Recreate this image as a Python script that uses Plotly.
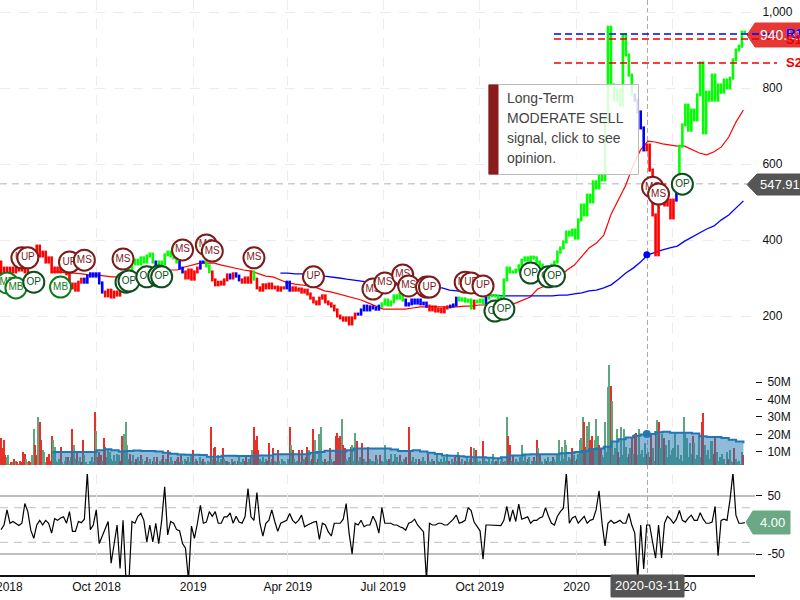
import pandas as pd
import plotly.graph_objects as go

W, H = 800, 600
FONT = "Liberation Sans"

# ---------- x ticks
tick_dates = ["2018-07-01", "2018-10-01", "2019-01-01", "2019-04-01", "2019-07-01", "2019-10-01", "2020-01-01", "2020-04-01"]
tick_labels = ["Jul 2018", "Oct 2018", "2019", "Apr 2019", "Jul 2019", "Oct 2019", "2020", "Apr 2020"]

# ---------- price, one reading about every 68 hours
price = [
    342,300,326,316,326,316,326,321,332,316, 334,353,363,384,358,368,342,353,316,326,
    316,332,321,311,274,284,268,289,297,289, 305,311,305,311,287,263,253,268,250,263,
    255,268,284,300,321,337,347,337,353,342, 358,363,342,326,342,337,361,368,358,353,
    342,326,316,300,321,297,316,326,342,342, 332,316,295,282,289,284,295,308,300,311,
    305,295,289,300,289,316,297,274,268,282, 274,284,274,276,268,274,274,289,268,274,
    268,271,263,268,258,247,237,232,247,253, 237,232,226,216,200,195,189,195,179,195,
    205,205,216,226,216,224,221,218,226,232, 242,229,237,253,247,258,242,229,232,242,
    234,242,232,234,226,216,224,213,218,211, 221,224,226,229,247,242,245,239,242,221,
    239,237,242,234,247,253,253,253,247,242, 295,326,316,316,321,332,347,353,347,355,
    353,342,334,316,316,321,334,342,368,379, 395,421,413,426,405,453,492,466,518,500,
    553,537,571,558,716,960,808,768,795,755, 939,887,834,782,768,737,695,637,650,584,
    466,361,505,545,492,505,458,505,545,647, 703,755,689,742,716,782,866,682,789,768,
    834,768,808,789,821,800,826,874,900,910,947,
]
state_runs = [("r",28),("b",7),("r",6),("g",11),("b",1),("g",7),("b",2),("r",5),("b",2),("g",2),
              ("r",6),("b",1),("r",1),("b",2),("r",4),("g",1),("r",10),("b",2),("r",22),("b",8),
              ("g",8),("b",8),("r",7),("b",3),("g",5),("r",1),("g",3),("b",1),("g",49),("b",4),
              ("r",10),("b",1),("g",23)]

# ---------- moving averages, one reading per week from week 7 and week 38
ma_red = [316,316,313,313,311,308,308,305,303,303,305,308,311,313,316,318,321,321,329,334,
          339,339,339,334,329,326,321,318,311,305,303,295,287,284,282,279,274,266,263,258,
          253,247,242,234,226,218,218,218,218,221,224,224,224,224,224,224,226,226,229,229,
          229,226,224,234,242,250,271,279,284,303,321,334,358,379,392,413,468,505,545,597,
          637,660,658,653,650,647,647,639,629,624,632,645,671,711,742]
ma_blue = [313,313,311,311,308,308,305,303,300,297,295,292,289,287,284,282,282,279,279,276,
           276,274,274,268,266,263,261,258,255,255,253,253,253,253,253,253,253,253,255,255,
           258,261,266,268,274,282,297,313,326,342,361,368,374,379,384,397,408,418,429,437,
           453,466,484,503]

# ---------- volume (millions), negative = down day
volume = [
    -18,-12,-17,-8,7,8,3,-4,4,-6, 5,-4,3,-5,-4,-10,-9,6,4,-5,
    -4,8,23,-14,-8,30,-27,-17,11,10, 4,-7,-9,-5,-19,17,13,5,4,6,
    -13,4,3,5,7,-7,5,7,-23,14, 6,-10,5,7,-4,-17,8,4,3,3,
    5,7,4,-33,22,-7,-10,-8,5,-18, -13,7,11,10,6,5,8,5,9,8,
    -5,-19,-19,20,27,14,6,-9,5,8, 4,-6,7,5,-8,6,3,5,-7,4,
    6,3,-5,7,4,-7,3,5,6,-8, 4,6,-11,4,7,5,3,-5,6,-7,
    4,-9,5,3,6,-5,7,4,9,-11, 4,6,-5,3,7,5,-6,4,3,5,
    4,-24,6,-12,-13,5,8,4,6,-12, 6,5,-5,4,3,6,-4,5,3,-5,
    7,4,3,6,-5,-8,4,6,-8,11, -24,-17,-19,-11,6,5,7,4,6,-5,
    -15,4,6,-12,5,4,-11,5,3,6, 5,4,3,6,-24,14,-11,6,4,5,
    -11,4,-11,5,6,-7,-13,11,5,-6, -23,17,4,-6,20,24,5,4,-6,4,
    5,-12,6,4,-5,-19,-21,-18,-19,29, -14,-12,6,5,7,-13,14,5,21,-16,
    5,7,4,-15,6,5,4,-13,6,5, 5,4,-8,6,3,-8,5,4,14,6,
    5,-6,9,4,-5,9,7,4,-8,5, 4,6,-7,3,-24,-10,5,7,4,6,
    3,-6,5,4,7,5,3,-9,5,4, 6,-5,3,8,5,-4,6,4,7,5,
    9,-5,3,6,4,-7,5,10,-8,4, 6,3,-5,7,4,6,-13,4,12,-11,
    6,4,5,3,-16,7,5,4,6,3, 5,9,4,-5,6,3,5,7,-4,5,
    30,-19,-14,5,-8,4,6,5,-4,7, 14,5,8,4,-6,7,3,5,-7,5,
    -17,12,-8,5,4,3,6,-5,7,4, 5,-7,6,4,8,17,5,13,6,17,
    14,5,7,6,-12,8,5,-6,9,17, 18,30,-27,-13,25,27,-17,-19,-12,17,
    29,19,-14,-12,8,7,27,10,47,60, -48,39,8,12,23,-10,7,24,8,23,
    13,7,-9,12,-18,9,-20,-21,8,23, 9,11,7,15,-9,10,-7,-20,12,5,
    -22,28,-27,12,20,9,-18,14,7,17, 8,11,12,21,7,14,6,8,5,30,
    21,18,7,15,9,-19,15,6,8,19, 7,-27,-32,14,8,11,6,16,16,-9,
    -18,10,5,7,4,9,6,3,10,-6, 11,5,4,-12,6,4,5,3,10,-8,
]
vol_ma = [10,10,10,10,10,10,11,11.5,11,10.2,10.5,10.8,10.6,10.6,10.2,9.6,9,8.5,8.4,8.4,
          8.2,7.2,7.2,7.8,7.8,7.7,7.7,7.7,8,8,8.7,8.7,8.7,8.7,8.7,9.5,10,10.7,10.7,10.3,
          11,12,12,12,12,12,11.4,10.5,10.5,11,10.3,9.5,8.8,8,7.8,7.5,7.2,7,7,6.7,
          6.4,7,7.9,7.9,8.5,8.7,8.7,8.7,8.7,9.2,9.4,10,10.5,11.5,12,13,16,17.3,18.3,19.2,
          20,20.2,21.2,21.5,21,21,21,20.5,19,18.6,18.5,18,17,16,15]

# ---------- oscillator
osc = [
    -8,0,26,3,6,3,-1,3,37,23, -9,-23,0,8,0,8,3,-14,11,8,
    12,14,3,23,-11,-11,6,4,10,90, -8,0,26,-32,-20,-6,6,-66,-29,0,
    -75,8,-95,-95,6,3,15,20,8,-29, 0,-29,3,-32,8,66,-17,6,3,-8,
    -10,-32,-40,-95,-2,-23,3,34,3,5, 23,15,23,3,3,14,14,21,3,15,
    5,3,14,63,14,8,56,3,-19,3, 8,26,6,-11,3,5,8,20,8,3,
    8,17,-3,0,3,5,6,-25,3,0, -12,-19,3,3,3,10,37,-15,-50,3,
    0,8,-3,0,0,15,5,-14,30,3, 3,3,0,0,-3,-5,-9,3,5,10,
    0,-6,-12,-95,3,0,0,3,3,0, 0,5,10,17,3,5,8,30,25,5,
    -3,-10,-59,0,0,0,0,-1,-1,8, 32,6,26,6,36,10,12,14,3,8,
    8,12,14,30,15,3,0,15,23,29, 90,3,12,15,3,10,15,3,8,10,
    26,59,3,-36,3,8,3,5,8,3, 3,20,0,-14,-95,0,-76,0,0,-30,
    -57,0,-57,3,15,10,3,10,25,8, 5,12,17,8,8,21,10,3,3,5,
    32,-53,8,10,8,43,90,17,3,3,4,
]

# ---------- signal badges: position in price list, price, text, kind
badge_idx = [2,5,7,9,11,20,23,28,41,42,43,49,53,54,61,69,71,85,105,125,129,135,137,143,144,156,158,162,166,169,178,184,186,219,221,229]
badge_px = [287,274,353,353,289,276,342,347,350,289,292,303,305,303,374,387,371,353,303,271,287,308,279,276,276,289,287,279,213,218,313,303,305,539,521,547]
badge_txt = ["MB","MB","UP","UP","OP","MB","UP","MS","MS","OP","OP","OP","OP","OP","MS","MS","MS","MS","UP","MS","MS","MS","MS","UP","UP","MS","UP","UP","OP","OP","OP","OP","OP","MS","MS","OP"]
badge_col = {"MB": "#0f7a1c", "OP": "#0d4f1c", "UP": "#7d1a1a", "MS": "#7d1a1a"}

# levels
level_names = ["R1", "S1", "S2"]
level_values = [942, 929, 866]
level_colors = ["#0000ff", "#ee0000", "#ee0000"]
last_price = 547.91
last_price_tag = "940.51"
last_osc = 4.00
cross_date = "2020-03-08"
cross_label = "2020-03-11"
cross_ma = 361
cross_volma = 20.2
tooltip_lines = ["Long-Term", "MODERATE SELL", "signal, click to see", "opinion."]

# ---------- dates
price_dates = pd.date_range("2018-07-02", periods=len(price), freq="68h")
vol_dates = pd.date_range("2018-07-02", periods=len(volume), freq="34h")
week_dates = pd.date_range("2018-07-02", periods=102, freq="7D")

def px(x):
    return x / W

def py(y):
    return 1 - y / H

fig = go.Figure()

# volume
fig.add_trace(go.Bar(x=vol_dates, y=[abs(v) for v in volume], yaxis="y2", width=0.9e8,
                     marker=dict(color=["#e8302a" if v < 0 else "#5fa57f" for v in volume], line=dict(width=0)),
                     hoverinfo="skip", showlegend=False))
fig.add_trace(go.Scatter(x=week_dates[7:], y=vol_ma, yaxis="y2", mode="lines", line=dict(color="#1f77b4", width=2, shape="hv"),
                         fill="tozeroy", fillcolor="rgba(31,119,180,0.5)", hoverinfo="skip", showlegend=False))
fig.add_trace(go.Scatter(x=[cross_date], y=[cross_volma], yaxis="y2", mode="markers", marker=dict(color="#1f77b4", size=8),
                         hoverinfo="skip", showlegend=False))

# oscillator
fig.add_trace(go.Scatter(x=price_dates, y=osc, yaxis="y3", mode="lines", line=dict(color="#000000", width=1.2),
                         hoverinfo="skip", showlegend=False))

# moving averages
fig.add_trace(go.Scatter(x=week_dates[7:], y=ma_red, mode="lines", line=dict(color="#ff0000", width=1.2), hoverinfo="skip", showlegend=False))
fig.add_trace(go.Scatter(x=week_dates[38:], y=ma_blue, mode="lines", line=dict(color="#0000ff", width=1.3), hoverinfo="skip", showlegend=False))
fig.add_trace(go.Scatter(x=[cross_date], y=[cross_ma], mode="markers", marker=dict(color="#0000ff", size=7), hoverinfo="skip", showlegend=False))

# price, drawn as vertical bars coloured by state
groups = {"r": ([], []), "b": ([], []), "g": ([], [])}
start = 0
for code, n in state_runs:
    for k in range(start, start + n):
        nxt = price[min(k + 1, len(price) - 1)]
        lo, hi = min(price[k], nxt), max(price[k], nxt)
        groups[code][0].extend([price_dates[k], price_dates[k], None])
        groups[code][1].extend([lo - 4, hi + 4, None])
    start += n
for code, color in [("r", "#ff0000"), ("b", "#0000ff"), ("g", "#00ff00")]:
    fig.add_trace(go.Scatter(x=groups[code][0], y=groups[code][1], mode="lines", line=dict(color=color, width=2.6),
                             connectgaps=False, hoverinfo="skip", showlegend=False))

# badges
for i, p, t in zip(badge_idx, badge_px, badge_txt):
    c = badge_col[t]
    fig.add_trace(go.Scatter(x=[price_dates[i]], y=[p], mode="markers+text", text=[t], textposition="middle center",
                             textfont=dict(family=FONT, size=10, color=c),
                             marker=dict(size=21, color="white", line=dict(color=c, width=2)),
                             hoverinfo="skip", showlegend=False))

GRID = "#ececec"
layout = dict(
    width=W, height=H, autosize=False, margin=dict(l=0, r=0, t=0, b=0, autoexpand=False),
    paper_bgcolor="white", plot_bgcolor="rgba(0,0,0,0)", bargap=0,
    font=dict(family=FONT, size=12, color="#111111"),
    xaxis=dict(domain=[0, 755 / W], anchor="y3", type="date", range=["2018-07-01", "2020-06-19"], automargin=False,
               tickmode="array", tickvals=tick_dates, ticktext=tick_labels, ticks="", ticklabeloverflow="allow",
               tickfont=dict(size=12, color="#111111"), showgrid=True, gridcolor=GRID, griddash="10px,9px",
               showline=True, linecolor="#111111", linewidth=1.5, zeroline=False, ticklen=5),
    yaxis=dict(domain=[py(392), 1], anchor="x", side="right", range=[0, 1031.6], tickmode="array", automargin=False,
               tickvals=[200, 400, 600, 800, 1000], ticktext=["200", "400", "600", "800", "1,000"],
               ticks="outside", ticklen=4, tickcolor="rgba(0,0,0,0)", showgrid=True, gridcolor=GRID, griddash="10px,9px",
               zeroline=False, showline=False),
    yaxis2=dict(domain=[py(465), py(360)], anchor="x", side="right", range=[2.53, 62.6], tickmode="array", automargin=False,
                tickvals=[10, 20, 30, 40, 50], ticktext=["10M", "20M", "30M", "40M", "50M"],
                ticks="outside", ticklen=6, tickcolor="#111111", ticklabelstandoff=3, showgrid=False, zeroline=False, showline=False),
    yaxis3=dict(domain=[py(575), py(474)], anchor="x", side="right", range=[-86.2, 87.9], tickmode="array", automargin=False,
                tickvals=[-50, 50], ticktext=["-50", "50"],
                ticks="outside", ticklen=6, tickcolor="#111111", ticklabelstandoff=3, showgrid=False, zeroline=False, showline=False),
)

def poly(points, fill, line=None, opacity=1.0, layer="above"):
    path = "M " + " L ".join(f"{px(a):.5f} {py(b):.5f}" for a, b in points) + " Z"
    return dict(type="path", xref="paper", yref="paper", path=path, fillcolor=fill,
                line=dict(color=line or fill, width=1), opacity=opacity, layer=layer)

shapes = []
# oscillator bands
for lv, col, dash, wd in [(50, "#aaaaaa", "solid", 1.6), (-50, "#aaaaaa", "solid", 1.6), (30, "#cccccc", "8px,6px", 1.2), (-30, "#cccccc", "8px,6px", 1.2)]:
    shapes.append(dict(type="line", xref="x domain", yref="y3", x0=0, x1=1, y0=lv, y1=lv, layer="below",
                       line=dict(color=col, width=wd, dash=dash)))
# crosshair
shapes.append(dict(type="line", xref="x domain", yref="y", x0=0, x1=747 / 755, y0=last_price, y1=last_price, layer="below",
                   line=dict(color="#cccccc", width=1.5, dash="7px,5px")))
shapes.append(dict(type="line", xref="paper", yref="paper", x0=px(647.5), x1=px(647.5), y0=py(0), y1=py(575), layer="below",
                   line=dict(color="#aaaaaa", width=1, dash="5px,3px")))
# tags
shapes.append(poly([(747, 35), (755, 23), (800, 23), (800, 47), (755, 47)], "#e53935"))
shapes.append(poly([(747, 184.5), (757, 174), (800, 174), (800, 195), (757, 195)], "#555555"))
shapes.append(poly([(746, 522), (753, 511), (790, 511), (790, 534), (753, 534)], "#6aa984"))
shapes.append(poly([(611, 575), (684, 575), (684, 597), (611, 597)], "#555555"))
# pivot levels
for val, col in zip(level_values, level_colors):
    shapes.append(dict(type="line", xref="paper", yref="y", x0=px(554), x1=px(777), y0=val, y1=val,
                       line=dict(color=col, width=1.6, dash="7px,4px")))
# tooltip
shapes.append(poly([(488.5, 84.5), (638.5, 84.5), (638.5, 174.5), (488.5, 174.5)], "rgba(255,255,255,0.85)", line="#bbbbbb"))
shapes.append(poly([(489, 85), (498, 85), (498, 174), (489, 174)], "#8a1c1c"))
layout["shapes"] = shapes

ann = []
def label(x, y, text, size=12, color="#111111", bold=False, anchor="left"):
    ann.append(dict(xref="paper", yref="paper", x=px(x), y=py(y), text=f"<b>{text}</b>" if bold else text,
                    showarrow=False, xanchor=anchor, yanchor="middle", xshift=0, yshift=0,
                    font=dict(family=FONT, size=size, color=color), align="left"))

label(758, 35, last_price_tag, 14, "white")
label(784, 33, level_names[0], 13, level_colors[0], True)
label(784, 40, level_names[1], 13, level_colors[1], True)
label(784, 63, level_names[2], 13, level_colors[2], True)
label(758, 184.5, f"{last_price:.2f}", 13, "white")
label(758, 522.5, f"{last_osc:.2f}", 13, "white")
label(647.5, 585.5, cross_label, 13, "white", anchor="center")
for n, t in enumerate(tooltip_lines):
    label(505, 98 + 20 * n, t, 14, "#444444")
layout["annotations"] = ann
fig.update_layout(**layout)

fig.write_html("out.html", config=dict(displayModeBar=False),
               post_script="document.body.style.margin='0';document.documentElement.style.overflow='hidden';")
